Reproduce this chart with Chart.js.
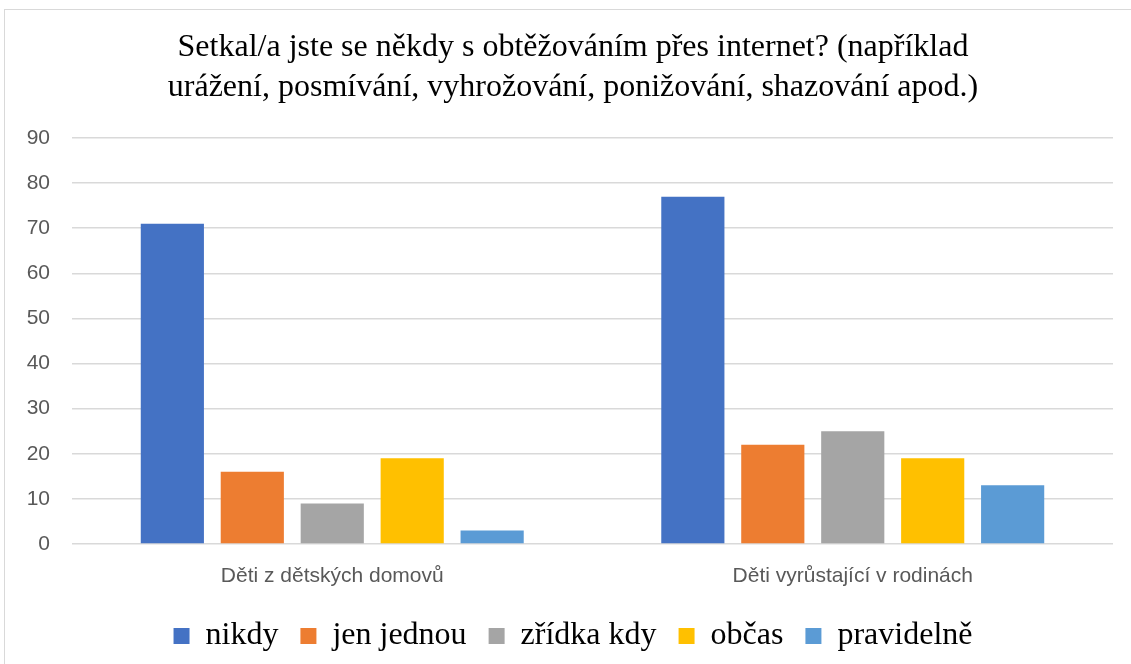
<!DOCTYPE html>
<html>
<head>
<meta charset="utf-8">
<script src="https://cdn.jsdelivr.net/npm/chart.js@4"></script>
<style>
  html, body { margin: 0; padding: 0; background: #fff; overflow: hidden; }
  #box { position: absolute; left: 4px; top: 9px; width: 1138px; height: 660px; border: 1px solid #d9d9d9; box-sizing: border-box; }
  #wrap { position: absolute; left: 4px; top: 9px; width: 1138px; height: 659px; }
</style>
</head>
<body>
<div id="box"></div>
<div id="wrap"><canvas id="c"></canvas></div>
<script>
const titleLines = ["Setkal/a jste se někdy s obtěžováním přes internet? (například", "urážení, posmívání, vyhrožování, ponižování, shazování apod.)"];
const categories = ["Děti z dětských domovů", "Děti vyrůstající v rodinách"];
const seriesNames = ["nikdy", "jen jednou", "zřídka kdy", "občas", "pravidelně"];
const nikdy = [71, 77];
const jenJednou = [16, 22];
const zridkaKdy = [9, 25];
const obcas = [19, 19];
const pravidelne = [3, 13];
const yTicks = [0, 10, 20, 30, 40, 50, 60, 70, 80, 90];
const colors = ["#4472C4", "#ED7D31", "#A5A5A5", "#FFC000", "#5B9BD5"];

const seriesValues = [nikdy, jenJednou, zridkaKdy, obcas, pravidelne];
const datasets = seriesNames.map((n, i) => ({
  label: n,
  data: seriesValues[i],
  backgroundColor: colors[i],
  borderWidth: 0,
  categoryPercentage: 0.768,
  barPercentage: 0.79
}));

new Chart(document.getElementById('c'), {
  type: 'bar',
  data: { labels: categories, datasets },
  options: {
    responsive: true,
    maintainAspectRatio: false,
    animation: false,
    layout: { padding: { left: 0, right: 0, top: 0, bottom: 6 } },
    plugins: {
      tooltip: { enabled: false },
      title: {
        display: true,
        text: titleLines,
        color: '#000',
        font: { family: 'Liberation Serif', size: 32, weight: 'normal', lineHeight: 1.25 },
        padding: { top: 19, bottom: 30 }
      },
      legend: {
        position: 'bottom',
        labels: {
          color: '#000',
          font: { family: 'Liberation Serif', size: 32 },
          boxWidth: 16,
          boxHeight: 16,
          padding: 22
        }
      }
    },
    scales: {
      x: {
        grid: { display: false, drawTicks: false },
        border: { display: false },
        afterFit: (axis) => { axis.height = 54; },
        ticks: { color: '#595959', font: { family: 'Liberation Sans', size: 21 }, padding: 20 }
      },
      y: {
        position: 'left',
        min: 0, max: 90,
        afterBuildTicks: (axis) => { axis.ticks = yTicks.map(v => ({ value: v })); },
        afterFit: (axis) => { axis.width = 68; },
        grid: { color: '#d9d9d9', lineWidth: 1.5, drawTicks: false },
        border: { display: false },
        ticks: { color: '#595959', font: { family: 'Liberation Sans', size: 21 }, padding: 22 }
      },
      yRight: {
        position: 'right',
        min: 0, max: 1,
        afterFit: (axis) => { axis.width = 29; },
        grid: { display: false, drawTicks: false },
        border: { display: false },
        ticks: { display: false }
      }
    }
  }
});
</script>
</body>
</html>
